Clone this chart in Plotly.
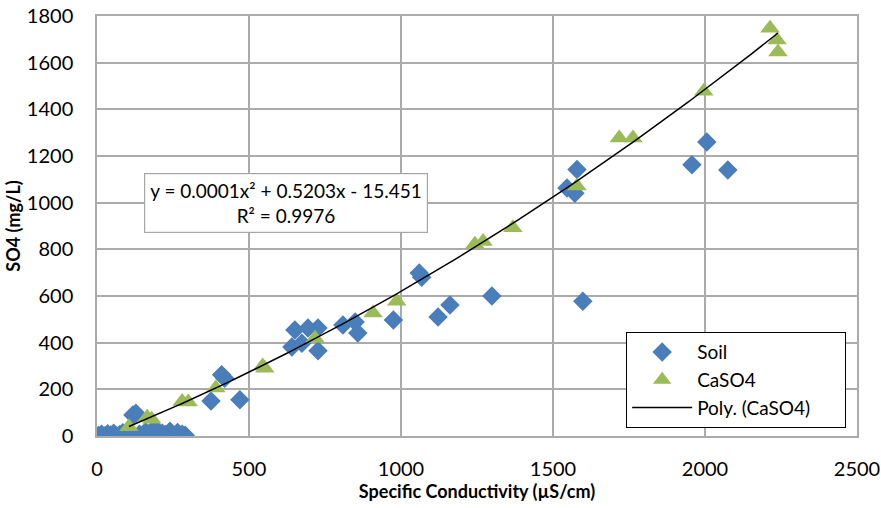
import numpy as np
import plotly.graph_objects as go

# Soil samples: specific conductivity (uS/cm) vs sulfate (mg/L)
soil_cond = [5, 15, 25, 35, 45, 55, 65, 75, 85, 95, 105, 118, 128, 140, 150,
             160, 175, 190, 200, 215, 225, 240, 255, 265, 280, 290,
             375, 470, 410, 420, 641, 651, 674, 694, 727, 727, 809, 849, 858,
             975, 1060, 1068, 1122, 1161, 1299, 1546, 1572, 1579, 1598,
             1957, 2006, 2075]
soil_so4 = [2, 8, 0, 10, 4, 12, 0, 6, 14, 3, 20, 90, 98, 8, 0,
            18, 5, 34, 0, 12, 6, 20, 2, 15, 8, 3,
            150, 155, 262, 248, 381, 454, 398, 463, 463, 365, 476, 489, 441,
            497, 699, 680, 510, 561, 600, 1063, 1040, 1142, 578,
            1162, 1260, 1140]

# CaSO4 standards
caso4_cond = [105, 165, 180, 280, 300, 391, 545, 552, 717, 908, 986, 1243,
              1270, 1368, 1579, 1718, 1763, 1996, 2214, 2237, 2240]
caso4_so4 = [40, 80, 72, 148, 146, 206, 300, 290, 419, 527, 577, 822,
             834, 893, 1071, 1277, 1277, 1477, 1748, 1697, 1646]

# Second-order polynomial trendline for CaSO4: a*x^2 + b*x + c
trend_coef = [0.000115, 0.5203, -15.451]
trend_r2 = 0.9976

x_ticks = [0, 500, 1000, 1500, 2000, 2500]
y_ticks = [0, 200, 400, 600, 800, 1000, 1200, 1400, 1600, 1800]

FONT = "Lato"
GRID = "#ababab"
PAD = "\u00a0" * 6  # widens the legend box past the longest entry

trend_x = np.linspace(min(caso4_cond), max(caso4_cond), 200)
trend_y = np.polyval(trend_coef, trend_x)

fig = go.Figure()
fig.add_trace(go.Scatter(
    x=soil_cond, y=soil_so4, mode="markers", name="Soil",
    legendgroup="soil",
    marker=dict(symbol="diamond", size=15, color="#4a7ebb"),
))
fig.add_trace(go.Scatter(
    x=caso4_cond, y=caso4_so4, mode="markers", name="CaSO4",
    legendgroup="caso4",
    marker=dict(symbol="triangle-up", size=17, color="#9bbb59"),
))
fig.add_trace(go.Scatter(
    x=trend_x, y=trend_y, mode="lines", name="Poly. (CaSO4)" + PAD,
    legendgroup="poly",
    line=dict(color="black", width=1.5),
))

a, b, c = trend_coef
sign = "-" if c < 0 else "+"
eq_text = (f"y = {a:.4f}x² + {b:.4f}x {sign} {abs(c):.3f}<br>"
           f"R² = {trend_r2:.4f}")
fig.add_annotation(
    x=622, y=1000, xref="x", yref="y", text=eq_text, showarrow=False,
    font=dict(family=FONT, size=19, color="black"), align="center",
    bgcolor="white", bordercolor="#a6a6a6", borderwidth=1.2, borderpad=5,
)

fig.update_layout(
    width=881, height=508,
    margin=dict(l=97, r=24, t=16, b=72, autoexpand=False),
    paper_bgcolor="white", plot_bgcolor="white",
    font=dict(family=FONT, size=19, color="black"),
    showlegend=True,
    legend=dict(
        x=0.696, y=0.2476, xanchor="left", yanchor="top",
        bgcolor="white", bordercolor="black", borderwidth=1.2,
        font=dict(family=FONT, size=19, color="black"),
        tracegroupgap=0, itemwidth=60,
    ),
    xaxis=dict(
        range=[0, 2500], tickvals=x_ticks, showgrid=True, gridcolor=GRID,
        gridwidth=1.5, showline=True, linecolor=GRID, linewidth=1.5,
        mirror=True, zeroline=False, ticks="", ticklabelstandoff=14,
        automargin=False,
        title=dict(text="<b>Specific Conductivity (µS/cm)</b>", standoff=5,
                   font=dict(family=FONT, size=18)),
        tickfont=dict(family=FONT, size=20),
    ),
    yaxis=dict(
        range=[0, 1800], tickvals=y_ticks, showgrid=True, gridcolor=GRID,
        gridwidth=1.5, showline=True, linecolor=GRID, linewidth=1.5,
        mirror=True, zeroline=False, ticks="", ticklabelstandoff=18,
        automargin=False,
        title=dict(text="<b>SO4 (mg/L)</b>", standoff=2,
                   font=dict(family=FONT, size=18)),
        tickfont=dict(family=FONT, size=20),
    ),
)

fig.write_html("out.html")
